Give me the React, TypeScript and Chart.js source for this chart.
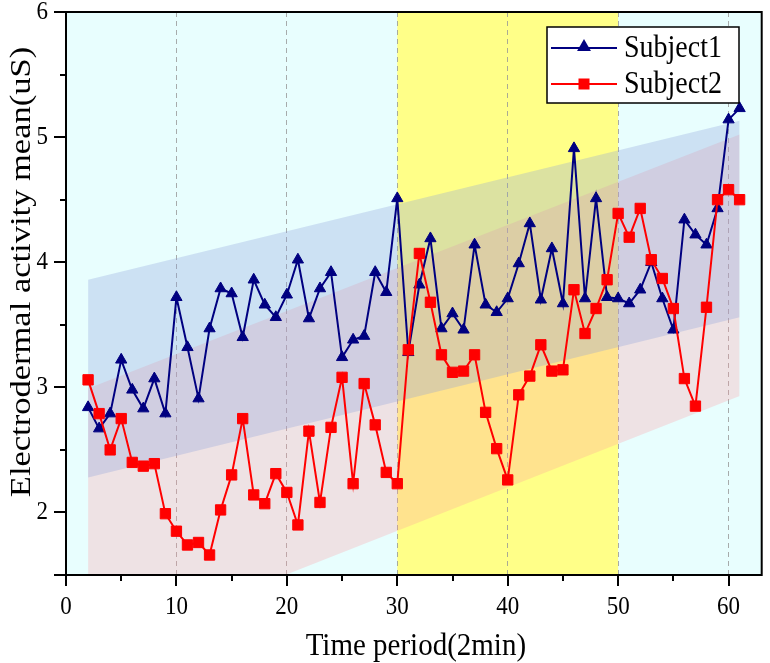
import React, { useEffect, useRef } from 'react';
import { Chart, registerables } from 'chart.js';

Chart.register(...registerables);

// ---------- data ----------
const periods = [
  2, 3, 4, 5, 6, 7, 8, 9, 10, 11, 12, 13, 14, 15, 16, 17, 18, 19, 20, 21,
  22, 23, 24, 25, 26, 27, 28, 29, 30, 31, 32, 33, 34, 35, 36, 37, 38, 39, 40, 41,
  42, 43, 44, 45, 46, 47, 48, 49, 50, 51, 52, 53, 54, 55, 56, 57, 58, 59, 60, 61,
];
const subject1 = [
  2.84, 2.67, 2.79, 3.22, 2.98, 2.83, 3.07, 2.79, 3.72, 3.32, 2.91, 3.47, 3.79, 3.75,
  3.40, 3.86, 3.66, 3.56, 3.74, 4.02, 3.55, 3.79, 3.92, 3.24, 3.38, 3.41, 3.92, 3.76, 4.51,
  3.28, 3.82, 4.19, 3.47, 3.59, 3.46, 4.14, 3.66, 3.60, 3.71, 3.99, 4.31, 3.70, 4.11, 3.67, 4.91, 3.71,
  4.51, 3.72, 3.71, 3.67, 3.78, 4.00, 3.71, 3.46, 4.34, 4.22, 4.14, 4.43, 5.14, 5.23,
];
const subject2 = [
  3.06, 2.79, 2.50, 2.75, 2.40, 2.37, 2.39, 1.99, 1.85, 1.74, 1.76, 1.66, 2.02, 2.30,
  2.75, 2.14, 2.07, 2.31, 2.16, 1.90, 2.65, 2.08, 2.68, 3.08, 2.23, 3.03, 2.70, 2.32, 2.23,
  3.30, 4.07, 3.68, 3.26, 3.12, 3.13, 3.26, 2.80, 2.51, 2.26, 2.94, 3.09, 3.34, 3.13, 3.14, 3.78, 3.43,
  3.63, 3.86, 4.39, 4.20, 4.43, 4.02, 3.87, 3.63, 3.07, 2.85, 3.64, 4.50, 4.58, 4.50,
];
const seriesNames = ['Subject1', 'Subject2'];

const bandX = [2, 61];
const band1Upper = [3.86, 5.13];
const band1Lower = [2.28, 3.56];
const band2Upper = [2.99, 5.02];
const band2Lower = [0.88, 2.93];

const highlightRange = [30, 50];

const xMajorTicks = [0, 10, 20, 30, 40, 50, 60];
const xMinorTicks = [5, 15, 25, 35, 45, 55];
const xGridLines = [10, 20, 30, 40, 50, 60];
const yMajorTicks = [2, 3, 4, 5, 6];
const yMinorTicks = [2.5, 3.5, 4.5, 5.5];
const yEdgeTicks = [1.5];

const xTitle = 'Time period(2min)';
const yTitle = 'Electrodermal activity mean(uS)';

// ---------- styles ----------
const FONT = '"Liberation Serif", "Times New Roman", serif';
const NAVY = '#000080';
const RED = '#FF0000';
const BG_CYAN = '#E8FEFE';
const BG_YELLOW = '#FFFF88';
const BAND1 = 'rgba(140,160,220,0.30)';
const BAND2 = 'rgba(255,150,158,0.27)';

function drawText(
  ctx: CanvasRenderingContext2D,
  text: string,
  x: number,
  y: number,
  size: number,
  align: CanvasTextAlign,
  baseline: CanvasTextBaseline,
  stretch: number,
  rotate = false
) {
  ctx.save();
  ctx.translate(x, y);
  if (rotate) {
    ctx.rotate(-Math.PI / 2);
    ctx.scale(stretch, 1);
  } else {
    ctx.scale(1, stretch);
  }
  ctx.font = `${size}px ${FONT}`;
  ctx.fillStyle = '#000';
  ctx.textAlign = align;
  ctx.textBaseline = baseline;
  ctx.fillText(text, 0, 0);
  ctx.restore();
}

function drawTriangle(ctx: CanvasRenderingContext2D, x: number, y: number, r: number, color: string) {
  ctx.beginPath();
  ctx.moveTo(x, y - r);
  ctx.lineTo(x + r * 0.866, y + r / 2);
  ctx.lineTo(x - r * 0.866, y + r / 2);
  ctx.closePath();
  ctx.fillStyle = color;
  ctx.fill();
}

const backgroundPlugin = {
  id: 'bgPlugin',
  beforeDraw(chart: any) {
    const { ctx, chartArea: a, scales } = chart;
    ctx.save();
    ctx.fillStyle = BG_CYAN;
    ctx.fillRect(a.left, a.top, a.right - a.left, a.bottom - a.top);
    const x0 = scales.x.getPixelForValue(highlightRange[0]);
    const x1 = scales.x.getPixelForValue(highlightRange[1]);
    ctx.fillStyle = BG_YELLOW;
    ctx.fillRect(x0, a.top, x1 - x0, a.bottom - a.top);
    ctx.restore();
  },
};

const overlayPlugin = {
  id: 'overlayPlugin',
  afterDraw(chart: any) {
    const { ctx, chartArea: a, scales } = chart;
    const xs = scales.x;
    const ys = scales.y;
    ctx.save();
    // frame
    ctx.strokeStyle = '#000';
    ctx.lineWidth = 2;
    ctx.strokeRect(a.left, a.top, a.right - a.left, a.bottom - a.top);

    // ticks
    ctx.lineWidth = 2;
    ctx.beginPath();
    xMajorTicks.forEach((v) => {
      const px = Math.round(xs.getPixelForValue(v));
      ctx.moveTo(px, a.bottom);
      ctx.lineTo(px, a.bottom + 11);
    });
    xMinorTicks.forEach((v) => {
      const px = Math.round(xs.getPixelForValue(v));
      ctx.moveTo(px, a.bottom);
      ctx.lineTo(px, a.bottom + 6);
    });
    yMajorTicks.forEach((v) => {
      const py = Math.round(ys.getPixelForValue(v));
      ctx.moveTo(a.left, py);
      ctx.lineTo(a.left - 12, py);
    });
    yEdgeTicks.forEach((v) => {
      const py = Math.round(ys.getPixelForValue(v));
      ctx.moveTo(a.left, py);
      ctx.lineTo(a.left - 12, py);
    });
    yMinorTicks.forEach((v) => {
      const py = Math.round(ys.getPixelForValue(v));
      ctx.moveTo(a.left, py);
      ctx.lineTo(a.left - 6, py);
    });
    ctx.stroke();

    // tick labels
    xMajorTicks.forEach((v) => {
      drawText(ctx, String(v), xs.getPixelForValue(v), a.bottom + 32, 23, 'center', 'middle', 1.12);
    });
    yMajorTicks.forEach((v) => {
      drawText(ctx, String(v), a.left - 18, ys.getPixelForValue(v), 23, 'right', 'middle', 1.12);
    });

    // titles
    drawText(ctx, xTitle, (a.left + a.right) / 2 + 2, 646, 29, 'center', 'middle', 1.12);
    drawText(ctx, yTitle, 22, 272, 29, 'center', 'middle', 1.19, true);

    // legend
    const lx = 547, ly = 27, lw = 192, lh = 76;
    ctx.fillStyle = '#fff';
    ctx.fillRect(lx, ly, lw, lh);
    ctx.strokeStyle = '#000';
    ctx.lineWidth = 1.5;
    ctx.strokeRect(lx, ly, lw, lh);
    const rows = [48, 84];
    const colors = [NAVY, RED];
    rows.forEach((ry, i) => {
      ctx.strokeStyle = colors[i];
      ctx.lineWidth = 2;
      ctx.beginPath();
      ctx.moveTo(551, ry);
      ctx.lineTo(617, ry);
      ctx.stroke();
      if (i === 0) {
        drawTriangle(ctx, 584, ry - 1, 8, NAVY);
      } else {
        ctx.fillStyle = RED;
        ctx.fillRect(584 - 5.5, ry - 5.5, 11, 11);
      }
      drawText(ctx, seriesNames[i], 624, ry + 1, 28, 'left', 'middle', 1.12);
    });
    ctx.restore();
  },
};

export default function App() {
  const canvasRef = useRef<HTMLCanvasElement | null>(null);

  useEffect(() => {
    if (!canvasRef.current) return;
    const pts = (xsArr: number[], ysArr: number[]) => xsArr.map((x, i) => ({ x, y: ysArr[i] }));
    const bandStyle = { pointRadius: 0, borderWidth: 0, borderColor: 'rgba(0,0,0,0)', tension: 0 };

    const chart = new Chart(canvasRef.current, {
      type: 'line',
      data: {
        datasets: [
          { label: 'band1Lower', data: pts(bandX, band1Lower), fill: false, order: 10, ...bandStyle },
          { label: 'band1Upper', data: pts(bandX, band1Upper), fill: '-1', backgroundColor: BAND1, order: 11, ...bandStyle },
          { label: 'band2Lower', data: pts(bandX, band2Lower), fill: false, order: 12, ...bandStyle },
          { label: 'band2Upper', data: pts(bandX, band2Upper), fill: '-1', backgroundColor: BAND2, order: 13, ...bandStyle },
          {
            label: seriesNames[0],
            data: pts(periods, subject1),
            borderColor: NAVY,
            backgroundColor: NAVY,
            borderWidth: 2,
            pointStyle: 'triangle',
            pointRadius: 6.5,
            pointBorderWidth: 1,
            pointBackgroundColor: NAVY,
            pointBorderColor: NAVY,
            fill: false,
            tension: 0,
            order: 2,
          },
          {
            label: seriesNames[1],
            data: pts(periods, subject2),
            borderColor: RED,
            backgroundColor: RED,
            borderWidth: 2,
            pointStyle: 'rect',
            pointRadius: 7.3,
            pointBorderWidth: 1,
            pointBackgroundColor: RED,
            pointBorderColor: RED,
            fill: false,
            tension: 0,
            order: 1,
          },
        ],
      },
      options: {
        animation: false,
        responsive: false,
        devicePixelRatio: 1,
        layout: { padding: { left: 0, right: 6, top: 12, bottom: 0 } },
        plugins: {
          legend: { display: false },
          tooltip: { enabled: false },
        },
        scales: {
          x: {
            type: 'linear',
            min: 0,
            max: 63,
            ticks: { display: false, stepSize: 10 },
            grid: {
              drawTicks: false,
              lineWidth: 1,
              color: (c: any) =>
                c.tick && xGridLines.includes(c.tick.value) ? 'rgba(150,150,150,0.8)' : 'rgba(0,0,0,0)',
            },
            border: { display: false, dash: [5, 4] },
            afterFit: (s: any) => {
              s.height = 88;
            },
          },
          y: {
            type: 'linear',
            min: 1.5,
            max: 6,
            ticks: { display: false },
            grid: { display: false },
            border: { display: false },
            afterFit: (s: any) => {
              s.width = 66;
            },
          },
        },
      },
      plugins: [backgroundPlugin, overlayPlugin],
    } as any);

    return () => chart.destroy();
  }, []);

  return (
    <div style={{ position: 'fixed', left: 0, top: 0, width: 770, height: 663, background: '#fff' }}>
      <canvas ref={canvasRef} width={770} height={663} style={{ display: 'block' }} />
    </div>
  );
}
